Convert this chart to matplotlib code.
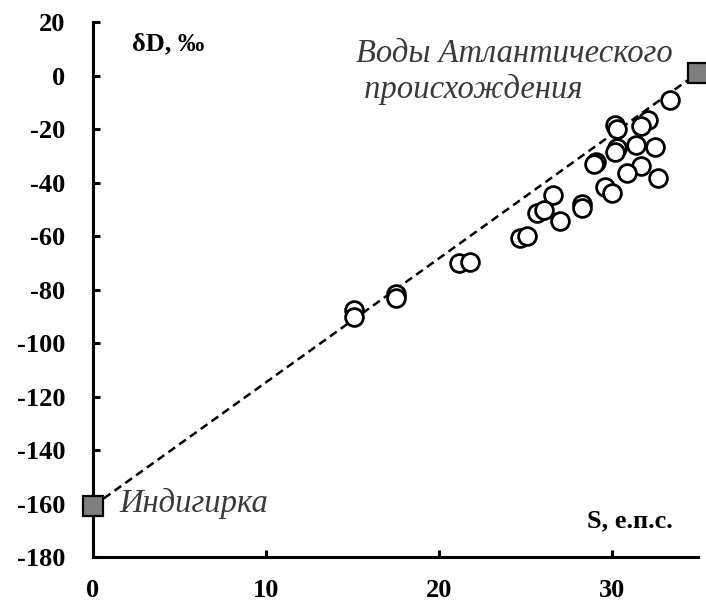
import matplotlib
matplotlib.use('Agg')
import matplotlib.pyplot as plt

# --- Data ---
salinity = [33.4, 30.2, 30.3, 32.1, 31.7, 30.3, 30.2, 31.4, 32.5, 29.1,
            29.0, 31.7, 30.9, 32.7, 29.6, 30.0, 26.6, 28.3, 28.3, 25.7,
            26.1, 27.0, 24.7, 25.1, 21.2, 21.8, 17.5, 17.5, 15.1, 15.1]
delta_d = [-9.0, -18.5, -20.0, -16.5, -19.0, -27.0, -28.5, -26.0, -26.6, -32.3,
           -33.0, -34.0, -36.5, -38.2, -41.5, -44.0, -44.6, -48.2, -49.5, -51.4,
           -50.3, -54.2, -60.8, -60.0, -70.0, -69.7, -81.5, -83.0, -87.8, -90.2]

# end members: river and Atlantic water
end_s = [0, 35]
end_d = [-161, 1]
end_labels = ['Индигирка', 'Воды Атлантического\n происхождения']

x_ticks = [0, 10, 20, 30]
y_ticks = list(range(-180, 21, 20))

SERIF = ['Liberation Serif', 'DejaVu Serif']
plt.rcParams['axes.unicode_minus'] = False

fig = plt.figure(figsize=(7.06, 6.05), dpi=100)
ax = fig.add_axes([0.1317, 0.0793, 0.857, 0.8843])

# mixing line
ax.plot(end_s, end_d, color='black', lw=1.8, dashes=(3.3, 2.0), zorder=2)

# samples
ax.plot(salinity, delta_d, 'o', ms=12.8, mfc='white', mec='black', mew=2.0,
        linestyle='none', zorder=3)

# end members
ax.plot(end_s, end_d, 's', ms=14, mfc='#7f7f7f', mec='black', mew=1.6,
        linestyle='none', zorder=4, clip_on=False)

ax.set_xlim(0, 35)
ax.set_ylim(-180, 20)
ax.set_xticks(x_ticks)
ax.set_yticks(y_ticks)

for side in ['top', 'right']:
    ax.spines[side].set_visible(False)
for side in ['left', 'bottom']:
    ax.spines[side].set_linewidth(2.2)

ax.tick_params(direction='in', length=5, width=2.2)
ax.tick_params(axis='y', pad=20)
ax.tick_params(axis='x', pad=16)
for lab in ax.get_xticklabels() + ax.get_yticklabels():
    lab.set_family(SERIF)
    lab.set_fontweight('bold')
    lab.set_fontsize(19)

# axis titles inside the plot
ax.text(0.064, 0.96, 'δD, ‰', transform=ax.transAxes, family=SERIF,
        fontsize=19, fontweight='bold', ha='left', va='center')
ax.text(0.958, 0.067, 'S, е.п.с.', transform=ax.transAxes, family=SERIF,
        fontsize=19, fontweight='bold', ha='right', va='center')

# end member labels
ax.text(1.55, -160, end_labels[0], family=SERIF, style='italic',
        fontsize=23.5, color='#3a3a3a', ha='left', va='center')
ax.text(15.2, 1.5, end_labels[1], family=SERIF, style='italic',
        fontsize=23.5, color='#3a3a3a', ha='left', va='center', linespacing=1.2)

fig.savefig('out.png', dpi=100)
